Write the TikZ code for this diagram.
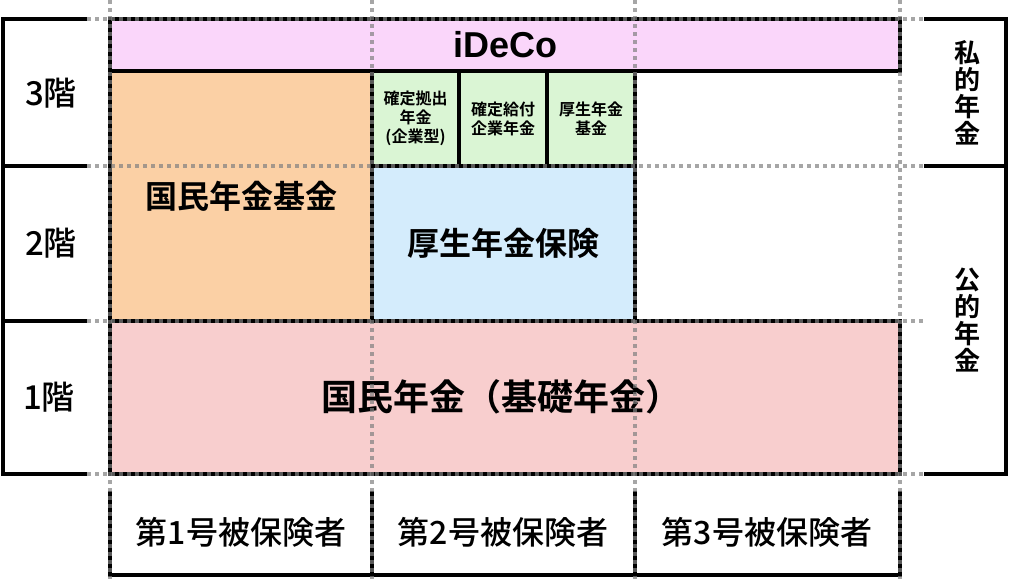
\documentclass[tikz,border=0pt]{standalone}
\usepackage{fontspec}
\setmainfont{Noto Sans CJK JP}[BoldFont={Noto Sans CJK JP Bold}]
\newfontfamily\jpmed{Noto Sans CJK JP Medium}
\newfontfamily\latinbold{Liberation Sans Bold}

\definecolor{idecopink}{RGB}{250,214,250}
\definecolor{kikinorange}{RGB}{251,208,165}
\definecolor{kigyogreen}{RGB}{218,245,212}
\definecolor{koseiblue}{RGB}{212,236,252}
\definecolor{kisored}{RGB}{248,206,206}

\begin{document}
\begin{tikzpicture}[x=1pt, y=-1pt,
    box/.style={draw=black, line width=4pt, inner sep=0pt, align=center, font=\bfseries},
    frame/.style={line width=4pt},
    gridline/.style={draw=gray, opacity=0.7, line width=4pt, dash pattern=on 4pt off 4pt},
    floor/.style={font=\jpmed\fontsize{33}{35}\selectfont},
    insured/.style={font=\jpmed\fontsize{32}{34}\selectfont},
    kind/.style={align=center, font=\bfseries\fontsize{26}{27}\selectfont}]
        \useasboundingbox (0,0) rectangle (1009,579);

        % Boxes
        \node (ideco) at (505,45) [box, fill=idecopink, minimum width=790pt, minimum height=52pt, font=\latinbold\fontsize{36}{38}\selectfont] {iDeCo};
        \node (kikin) at (241,196) [box, fill=kikinorange, minimum width=262pt, minimum height=250pt, font=\bfseries\fontsize{32}{34}\selectfont] {国民年金基金};
        \node (dc) at (415.5,118.5) [box, fill=kigyogreen, minimum width=87pt, minimum height=95pt, font=\bfseries\fontsize{16}{19}\selectfont] {確定拠出\\年金\\(企業型)};
        \node (db) at (503,118.5) [box, fill=kigyogreen, minimum width=88pt, minimum height=95pt, font=\bfseries\fontsize{16}{19}\selectfont] {確定給付\\企業年金};
        \node (kosekikin) at (591,118.5) [box, fill=kigyogreen, minimum width=88pt, minimum height=95pt, font=\bfseries\fontsize{16}{19}\selectfont] {厚生年金\\基金};
        \node (kosei) at (503.5,243.5) [box, fill=koseiblue, minimum width=263pt, minimum height=155pt, font=\bfseries\fontsize{32}{34}\selectfont] {厚生年金保険};
        \node (kiso) at (505,397.5) [box, fill=kisored, minimum width=790pt, minimum height=153pt] {};
        \node (kisotext) at (501,397) [font=\bfseries\fontsize{36}{38}\selectfont] {国民年金（基礎年金）};

        % Floors
        \draw[frame] (87,19) -- (3,19) -- (3,474) -- (87,474);
        \draw[frame] (3,166) -- (87,166);
        \draw[frame] (3,321) -- (87,321);
        \node (floor3) at (51,93) [floor] {3階};
        \node (floor2) at (51,243) [floor] {2階};
        \node (floor1) at (49,397) [floor] {1階};

        % Kinds
        \draw[frame] (924,19) -- (1006,19) -- (1006,474) -- (924,474);
        \draw[frame] (924,166) -- (1006,166);
        \node (shiteki) at (967,93) [kind] {私\\的\\年\\金};
        \node (koteki) at (967,320) [kind] {公\\的\\年\\金};

        % Insured persons
        \draw[frame] (110,491) -- (110,575) -- (900,575) -- (900,491);
        \draw[frame] (372,491) -- (372,575);
        \draw[frame] (635,491) -- (635,575);
        \node (first) at (241,532) [insured] {第1号被保険者};
        \node (second) at (503,532) [insured] {第2号被保険者};
        \node (third) at (767,532) [insured] {第3号被保険者};

        % Grid
        \foreach \x in {110,372,635,900}
            \draw[gridline] (\x,0) -- (\x,579);
        \foreach \y in {19,166,321,474}
            \draw[gridline] (87,\y) -- (924,\y);
    \end{tikzpicture}
\end{document}
